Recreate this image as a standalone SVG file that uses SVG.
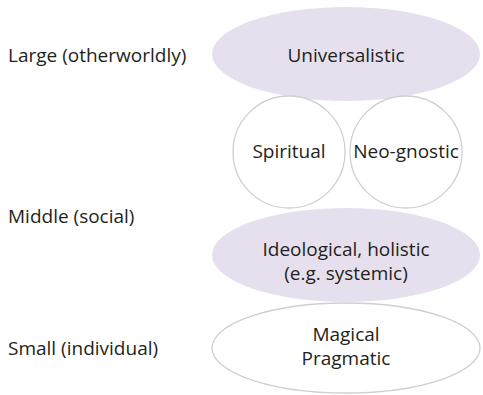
<svg xmlns="http://www.w3.org/2000/svg" width="483" height="395" viewBox="0 0 483 395">
<style>
text{font-family:"Open Sans","Noto Sans",sans-serif;font-size:19px;fill:#231f20}
.c{text-anchor:middle}
.fill{fill:#e6e0ee;stroke:none}
.out{fill:#fff;stroke:#cfcfcf;stroke-width:1.3}
</style>
<rect width="483" height="395" fill="#fff"/>
<g id="labels">
<text x="8" y="62">Large (otherworldly)</text>
<text x="8" y="223">Middle (social)</text>
<text x="8" y="355">Small (individual)</text>
</g>
<g id="connectors"/>
<g id="universalistic">
<ellipse class="fill" cx="346" cy="54" rx="134" ry="47"/>
<text class="c" x="346" y="62">Universalistic</text>
</g>
<g id="spiritual">
<circle class="out" cx="289" cy="152" r="56"/>
<text class="c" x="289" y="158">Spiritual</text>
</g>
<g id="neognostic">
<circle class="out" cx="406" cy="152" r="56"/>
<text class="c" x="406" y="158">Neo-gnostic</text>
</g>
<g id="ideological">
<ellipse class="fill" cx="346" cy="255" rx="134" ry="47"/>
<text class="c" x="346" y="256">Ideological, holistic</text>
<text class="c" x="346" y="280">(e.g. systemic)</text>
</g>
<g id="magical">
<ellipse class="out" cx="346" cy="348" rx="134" ry="45"/>
<text class="c" x="346" y="341">Magical</text>
<text class="c" x="346" y="365">Pragmatic</text>
</g>
</svg>
